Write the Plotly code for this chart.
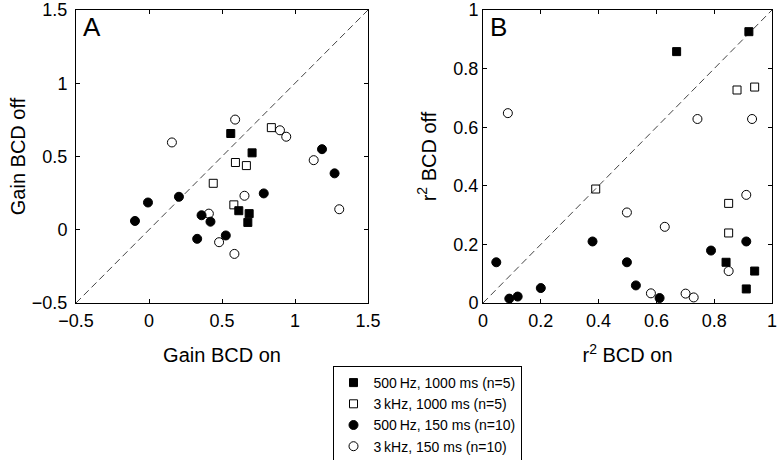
import plotly.graph_objects as go

# panel A: gain with BCD on / off
a_sq_f_x = [0.56, 0.706, 0.615, 0.686, 0.677]
a_sq_f_y = [0.657, 0.525, 0.13, 0.11, 0.05]
a_sq_o_x = [0.44, 0.592, 0.667, 0.581, 0.838]
a_sq_o_y = [0.317, 0.459, 0.438, 0.17, 0.697]
a_ci_f_x = [-0.096, -0.007, 0.205, 0.33, 0.36, 0.421, 0.526, 0.786, 1.185, 1.271]
a_ci_f_y = [0.06, 0.186, 0.225, -0.062, 0.099, 0.055, -0.039, 0.248, 0.55, 0.385]
a_ci_o_x = [0.157, 0.41, 0.48, 0.59, 0.585, 0.654, 0.897, 0.94, 1.128, 1.303]
a_ci_o_y = [0.596, 0.11, -0.085, 0.752, -0.165, 0.232, 0.679, 0.635, 0.475, 0.14]

# panel B: r^2 with BCD on / off
b_sq_f_x = [0.67, 0.92, 0.841, 0.94, 0.911]
b_sq_f_y = [0.858, 0.926, 0.139, 0.109, 0.048]
b_sq_o_x = [0.39, 0.879, 0.94, 0.85, 0.85]
b_sq_o_y = [0.389, 0.727, 0.737, 0.34, 0.239]
b_ci_f_x = [0.046, 0.091, 0.12, 0.2, 0.379, 0.498, 0.529, 0.611, 0.789, 0.911]
b_ci_f_y = [0.139, 0.015, 0.022, 0.051, 0.21, 0.139, 0.06, 0.017, 0.179, 0.21]
b_ci_o_x = [0.086, 0.498, 0.629, 0.581, 0.701, 0.729, 0.742, 0.85, 0.911, 0.931]
b_ci_o_y = [0.648, 0.309, 0.26, 0.033, 0.032, 0.019, 0.628, 0.109, 0.369, 0.628]

labels = ["500\u2009Hz, 1000 ms (n=5)", "3\u2009kHz, 1000 ms (n=5)",
          "500\u2009Hz, 150 ms (n=10)", "3\u2009kHz, 150 ms (n=10)"]

W, H = 780, 460
FONT = "Liberation Sans, Arial, sans-serif"

styles = [
    dict(symbol="square", size=8, color="black", line=dict(color="black", width=1)),
    dict(symbol="square-open", size=8, color="black", line=dict(width=1)),
    dict(symbol="circle", size=9, color="black", line=dict(color="black", width=1)),
    dict(symbol="circle-open", size=9, color="black", line=dict(width=1)),
]

fig = go.Figure()

# dashed identity lines
fig.add_trace(go.Scatter(x=[-0.5, 1.5], y=[-0.5, 1.5], mode="lines",
                         line=dict(color="#444", width=1, dash="7px,4px"),
                         showlegend=False, hoverinfo="skip", xaxis="x", yaxis="y"))
fig.add_trace(go.Scatter(x=[0, 1], y=[0, 1], mode="lines",
                         line=dict(color="#444", width=1, dash="7px,4px"),
                         showlegend=False, hoverinfo="skip", xaxis="x2", yaxis="y2"))

a_sets = [(a_sq_f_x, a_sq_f_y), (a_sq_o_x, a_sq_o_y), (a_ci_f_x, a_ci_f_y), (a_ci_o_x, a_ci_o_y)]
b_sets = [(b_sq_f_x, b_sq_f_y), (b_sq_o_x, b_sq_o_y), (b_ci_f_x, b_ci_f_y), (b_ci_o_x, b_ci_o_y)]

for i, (xs, ys) in enumerate(a_sets):
    fig.add_trace(go.Scatter(x=xs, y=ys, mode="markers", marker=styles[i],
                             name=labels[i], legendgroup=labels[i],
                             xaxis="x", yaxis="y"))
for i, (xs, ys) in enumerate(b_sets):
    fig.add_trace(go.Scatter(x=xs, y=ys, mode="markers", marker=styles[i],
                             name=labels[i], legendgroup=labels[i], showlegend=False,
                             xaxis="x2", yaxis="y2"))

ax_common = dict(showgrid=False, zeroline=False, showline=True, linecolor="black",
                 linewidth=1, mirror="ticks", ticks="inside", ticklen=4,
                 tickcolor="black", tickfont=dict(size=18, color="black"),
                 automargin=False, ticklabeloverflow="allow")

ytop = 1 - 10 / H
ybot = 1 - 303 / H

fig.update_layout(
    width=W, height=H,
    margin=dict(l=0, r=0, t=0, b=0, autoexpand=False),
    paper_bgcolor="white", plot_bgcolor="white",
    font=dict(family=FONT, color="black"),
    xaxis=dict(ax_common, domain=[76 / W, 368 / W], range=[-0.5, 1.5], dtick=0.5,
               ticklabelstandoff=1,
               title=dict(text="Gain BCD on", font=dict(size=20), standoff=18)),
    yaxis=dict(ax_common, domain=[ybot, ytop], range=[-0.5, 1.5], dtick=0.5,
               ticklabelstandoff=4,
               title=dict(text="Gain BCD off", font=dict(size=20), standoff=0)),
    xaxis2=dict(ax_common, domain=[483 / W, 772 / W], range=[0, 1], dtick=0.2,
                anchor="y2", ticklabelstandoff=1,
                title=dict(text="r<sup>2</sup> BCD on", font=dict(size=20), standoff=18)),
    yaxis2=dict(ax_common, domain=[ybot, ytop], range=[0, 1], dtick=0.2,
                anchor="x2", ticklabelstandoff=0,
                title=dict(text="r<sup>2</sup> BCD off", font=dict(size=20), standoff=11)),
    legend=dict(x=427 / W, y=1 - 366 / H, xanchor="center", yanchor="top",
                bordercolor="black", borderwidth=1, bgcolor="white",
                font=dict(size=14, color="black"), itemwidth=30,
                tracegroupgap=0),
    annotations=[
        dict(text="A", x=0.0, y=1.0, xref="x domain", yref="y domain",
             xanchor="left", yanchor="top", xshift=5, yshift=0,
             showarrow=False, font=dict(size=26, color="black")),
        dict(text="B", x=0.0, y=1.0, xref="x2 domain", yref="y2 domain",
             xanchor="left", yanchor="top", xshift=5, yshift=0,
             showarrow=False, font=dict(size=26, color="black")),
    ],
)

# drop the default 8px page margin so the figure fills the window exactly
fig.write_html("out.html", config={"displayModeBar": False},
               post_script="document.body.style.margin='0';")
